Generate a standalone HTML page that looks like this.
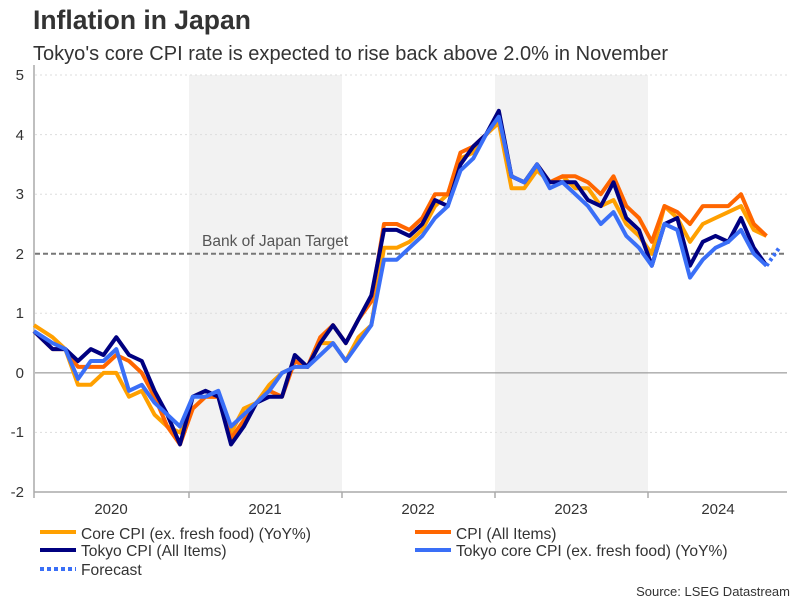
<!DOCTYPE html>
<html><head><meta charset="utf-8"><style>
html,body{margin:0;padding:0;background:#fff;}
svg{display:block;font-family:"Liberation Sans",Arial,sans-serif;}
</style></head><body>
<svg width="801" height="601" viewBox="0 0 801 601" xmlns="http://www.w3.org/2000/svg">
<rect width="801" height="601" fill="#fff"/>
<text x="33" y="29" font-size="26.5" font-weight="bold" fill="#333">Inflation in Japan</text>
<text x="33" y="60" font-size="20" fill="#333" textLength="635" lengthAdjust="spacingAndGlyphs">Tokyo's core CPI rate is expected to rise back above 2.0% in November</text>
<rect x="189" y="75" width="153" height="417" fill="#f2f2f2"/>
<rect x="495" y="75" width="153" height="417" fill="#f2f2f2"/>
<g stroke="#ddd" stroke-dasharray="2,3" stroke-width="1">
<line x1="35" x2="787" y1="75" y2="75"/><line x1="35" x2="787" y1="134.6" y2="134.6"/>
<line x1="35" x2="787" y1="194.2" y2="194.2"/><line x1="35" x2="787" y1="313.3" y2="313.3"/>
<line x1="35" x2="787" y1="432.4" y2="432.4"/>
</g>
<line x1="35" x2="787" y1="372.9" y2="372.9" stroke="#888" stroke-width="1"/>
<line x1="35" x2="787" y1="253.7" y2="253.7" stroke="#777" stroke-width="2" stroke-dasharray="5,3"/>
<text x="202" y="246" font-size="15.5" fill="#555">Bank of Japan Target</text>
<line x1="34" x2="34" y1="65" y2="492" stroke="#aaa" stroke-width="1.5"/>
<line x1="34" x2="787" y1="492" y2="492" stroke="#aaa" stroke-width="1.5"/>
<g stroke="#aaa" stroke-width="1.5"><line x1="34" x2="34" y1="492" y2="498"/><line x1="189" x2="189" y1="492" y2="498"/><line x1="342" x2="342" y1="492" y2="498"/><line x1="495" x2="495" y1="492" y2="498"/><line x1="648" x2="648" y1="492" y2="498"/></g>
<g font-size="15" fill="#333" text-anchor="end">
<text x="24" y="80">5</text><text x="24" y="140">4</text><text x="24" y="199">3</text><text x="24" y="259">2</text><text x="24" y="318">1</text><text x="24" y="378">0</text><text x="24" y="437">-1</text><text x="24" y="497">-2</text>
</g>
<g font-size="15" fill="#333" text-anchor="middle">
<text x="111" y="514">2020</text><text x="265" y="514">2021</text><text x="418" y="514">2022</text><text x="571" y="514">2023</text><text x="718" y="514">2024</text>
</g>
<g id="lines" fill="none" stroke-width="4" stroke-linejoin="round"></g>
<g font-size="15.6" fill="#333">
<rect x="40" y="530" width="36" height="4" fill="#ffa000"/><text x="81" y="539">Core CPI (ex. fresh food) (YoY%)</text>
<rect x="415" y="530" width="36" height="4" fill="#ff6600"/><text x="456" y="539">CPI (All Items)</text>
<rect x="40" y="548" width="36" height="4" fill="#000080"/><text x="81" y="556">Tokyo CPI (All Items)</text>
<rect x="415" y="548" width="36" height="4" fill="#3a6ff7"/><text x="456" y="556">Tokyo core CPI (ex. fresh food) (YoY%)</text>
<line x1="40" x2="76" y1="569" y2="569" stroke="#3a6ff7" stroke-width="4" stroke-dasharray="4,3"/><text x="81" y="575">Forecast</text>
<text x="790" y="596" font-size="13" text-anchor="end">Source: LSEG Datastream</text>
</g>
<script>
var S={
core:[0.8,0.6,0.4,-0.2,-0.2,0.0,0.0,-0.4,-0.3,-0.7,-0.9,-1.0,-0.6,-0.4,-0.4,-1.0,-0.6,-0.5,-0.2,0.0,0.1,0.1,0.5,0.5,0.2,0.6,0.8,2.1,2.1,2.2,2.4,2.8,3.0,3.6,3.7,4.0,4.2,3.1,3.1,3.4,3.2,3.3,3.1,3.1,2.8,2.9,2.5,2.3,2.0,2.8,2.6,2.2,2.5,2.6,2.7,2.8,2.4,2.3],
cpi:[0.7,0.4,0.4,0.1,0.1,0.1,0.3,0.2,0.0,-0.4,-0.9,-1.2,-0.6,-0.4,-0.4,-1.1,-0.8,-0.5,-0.3,-0.4,0.2,0.1,0.6,0.8,0.5,0.9,1.2,2.5,2.5,2.4,2.6,3.0,3.0,3.7,3.8,4.0,4.3,3.3,3.2,3.5,3.2,3.3,3.3,3.2,3.0,3.3,2.8,2.6,2.2,2.8,2.7,2.5,2.8,2.8,2.8,3.0,2.5,2.3],
tokyo:[0.7,0.4,0.4,0.2,0.4,0.3,0.6,0.3,0.2,-0.3,-0.7,-1.2,-0.4,-0.3,-0.4,-1.2,-0.9,-0.5,-0.4,-0.4,0.3,0.1,0.5,0.8,0.5,0.9,1.3,2.4,2.4,2.3,2.5,2.9,2.8,3.5,3.8,4.0,4.4,3.3,3.2,3.5,3.2,3.2,3.2,2.9,2.8,3.2,2.6,2.4,1.8,2.5,2.6,1.8,2.2,2.3,2.2,2.6,2.1,1.8],
tcore:[0.7,0.5,0.4,-0.1,0.2,0.2,0.4,-0.3,-0.2,-0.5,-0.7,-0.9,-0.4,-0.4,-0.3,-0.9,-0.7,-0.5,-0.3,0.0,0.1,0.1,0.3,0.5,0.2,0.5,0.8,1.9,1.9,2.1,2.3,2.6,2.8,3.4,3.6,4.0,4.3,3.3,3.2,3.5,3.1,3.2,3.0,2.8,2.5,2.7,2.3,2.1,1.8,2.5,2.4,1.6,1.9,2.1,2.2,2.4,2.0,1.8]};
var C={core:"#ffa000",cpi:"#ff6600",tokyo:"#000080",tcore:"#3a6ff7"};
function X(i){return i==0?34:180+(i-11)*12.75;}function Y(v){return 372.9-v*59.57;}
var g=document.getElementById("lines"),ns="http://www.w3.org/2000/svg";
["core","cpi","tokyo","tcore"].forEach(function(k){var p=S[k].map(function(v,i){return X(i).toFixed(1)+","+Y(v).toFixed(1);}).join(" ");
var e=document.createElementNS(ns,"polyline");e.setAttribute("points",p);e.setAttribute("stroke",C[k]);g.appendChild(e);});
var f=document.createElementNS(ns,"polyline");f.setAttribute("points",X(57)+","+Y(1.8)+" "+X(58)+","+Y(2.1));f.setAttribute("stroke","#3a6ff7");f.setAttribute("stroke-dasharray","3,3");g.appendChild(f);
</script>
</svg>
</body></html>
